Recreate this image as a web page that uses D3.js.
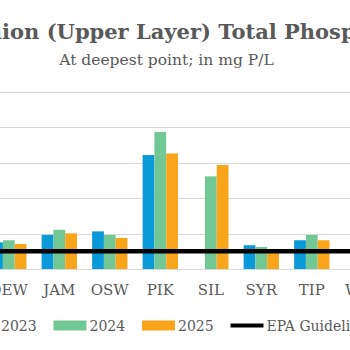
<!DOCTYPE html>
<html>
<head>
<meta charset="utf-8">
<script src="https://cdn.jsdelivr.net/npm/d3@7/dist/d3.min.js"></script>
<style>
  html, body { margin: 0; padding: 0; background: #fff; }
  svg { display: block; }
</style>
</head>
<body>
<div id="chart"></div>
<script>
// lakes, in mg P/L at deepest point
var lakes = ["DEW", "JAM", "OSW", "PIK", "SIL", "SYR", "TIP", "WHI"];
var years = ["2023", "2024", "2025"];
var tp2023 = [0.0150, 0.0192, 0.0212, 0.0642, null, 0.0134, 0.0162, null];
var tp2024 = [0.0162, 0.0221, 0.0192, 0.0772, 0.0522, 0.0124, 0.0192, null];
var tp2025 = [0.0141, 0.0201, 0.0175, 0.0651, 0.0586, 0.0111, 0.0162, null];
var epaGuideline = 0.01;
var yTicks = [0, 0.02, 0.04, 0.06, 0.08, 0.10];

var colors = { "2023": "#0b9ad9", "2024": "#72c895", "2025": "#f8a51c" };
var textColor = "#595959";
var font = "'DejaVu Serif', serif";

var totalWidth = 350,
    totalHeight = 350;

var series = [tp2023, tp2024, tp2025];
var data = lakes.map(function(l, i) {
    return { lake: l, values: years.map(function(y, j) { return { year: y, v: series[j][i] }; }) };
});

var svg = d3.select("#chart").append("svg")
    .attr("width", totalWidth)
    .attr("height", totalHeight);

var xScale = d3.scaleBand()
    .domain(lakes)
    .range([-16.45, -16.45 + lakes.length * 50.5])
    .paddingInner(0.3)
    .paddingOuter(0.15);

var xSub = d3.scaleBand()
    .domain(years)
    .range([0, xScale.bandwidth()]);

var yScale = d3.scaleLinear()
    .domain([0, 0.10])
    .range([269, 91.5]);

// gridlines
svg.append("g").selectAll("line")
    .data(yTicks)
    .enter().append("line")
    .attr("x1", 0)
    .attr("x2", totalWidth)
    .attr("y1", function(d) { return Math.round(yScale(d)) + 0.5; })
    .attr("y2", function(d) { return Math.round(yScale(d)) + 0.5; })
    .attr("stroke", "#d9d9d9")
    .attr("stroke-width", 1);

// bars
var groups = svg.append("g").selectAll("g")
    .data(data)
    .enter().append("g")
    .attr("transform", function(d) { return "translate(" + xScale(d.lake) + ",0)"; });

groups.selectAll("rect")
    .data(function(d) { return d.values.filter(function(v) { return v.v != null; }); })
    .enter().append("rect")
    .attr("x", function(d) { return xSub(d.year); })
    .attr("width", xSub.bandwidth())
    .attr("y", function(d) { return yScale(d.v); })
    .attr("height", function(d) { return yScale(0) - yScale(d.v); })
    .attr("fill", function(d) { return colors[d.year]; });

// EPA guideline
svg.append("line")
    .attr("x1", 0)
    .attr("x2", totalWidth)
    .attr("y1", yScale(epaGuideline))
    .attr("y2", yScale(epaGuideline))
    .attr("stroke", "#000")
    .attr("stroke-width", 4.5);

// category axis
var xAxis = d3.axisBottom(xScale).tickSize(0).tickPadding(0);
var gx = svg.append("g")
    .attr("transform", "translate(0,284.5)")
    .call(xAxis);
gx.select(".domain").remove();
gx.selectAll("text")
    .attr("dy", "0.71em")
    .attr("fill", textColor)
    .style("font-family", font)
    .style("font-size", "15px");

// titles
svg.append("text")
    .attr("x", 166.5)
    .attr("y", 38.5)
    .attr("text-anchor", "middle")
    .attr("fill", textColor)
    .style("font-family", font)
    .style("font-weight", "bold")
    .style("font-size", "21px")
    .text("Epilimnion (Upper Layer) Total Phosphorus");

svg.append("text")
    .attr("x", 166.5)
    .attr("y", 64.5)
    .attr("text-anchor", "middle")
    .attr("fill", textColor)
    .style("font-family", font)
    .style("font-size", "15.5px")
    .text("At deepest point; in mg P/L");

// legend
var legendItems = years.concat(["EPA Guideline"]);
var legend = svg.append("g").attr("transform", "translate(0,325.5)");
var item = legend.selectAll("g")
    .data(legendItems)
    .enter().append("g")
    .attr("transform", function(d, i) { return "translate(" + (-35 + i * 88.5) + ",0)"; });

item.append("rect")
    .filter(function(d) { return colors[d]; })
    .attr("x", 0)
    .attr("y", -5)
    .attr("width", 33)
    .attr("height", 10)
    .attr("fill", function(d) { return colors[d]; });

item.filter(function(d) { return !colors[d]; })
    .append("line")
    .attr("x1", 0)
    .attr("x2", 33)
    .attr("stroke", "#000")
    .attr("stroke-width", 4);

item.append("text")
    .attr("x", 36)
    .attr("dy", "0.36em")
    .attr("fill", textColor)
    .style("font-family", font)
    .style("font-size", "14px")
    .text(function(d) { return d; });
</script>
</body>
</html>
